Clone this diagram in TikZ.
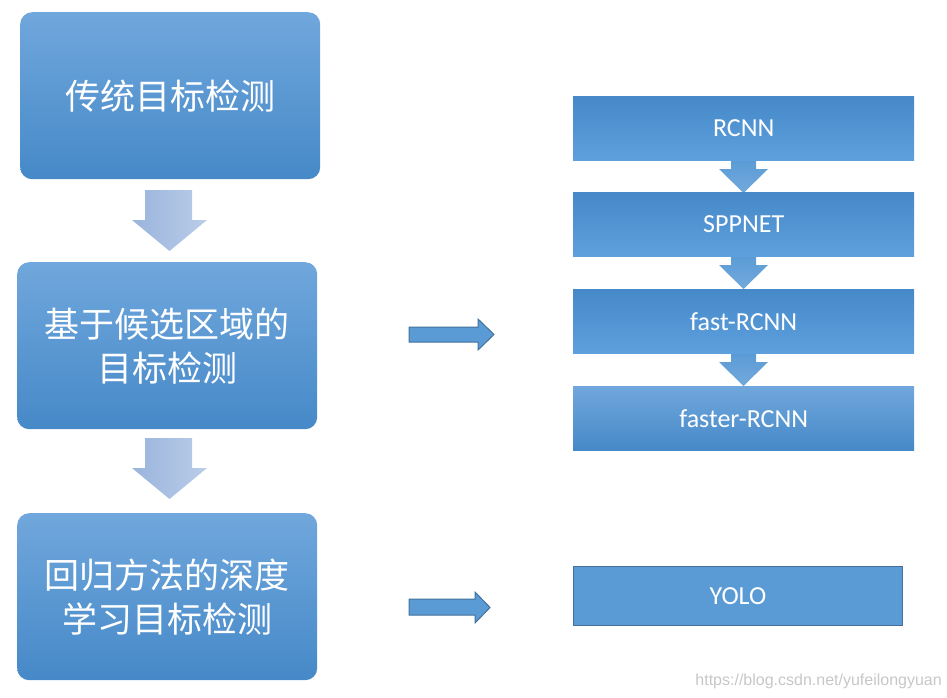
\documentclass[tikz,border=0pt]{standalone}
\usepackage{fontspec}
\setmainfont{Carlito}
\newfontfamily\cjk{Noto Sans CJK SC}
\newfontfamily\wmfont{Liberation Sans}
\definecolor{lbTop}{HTML}{70A7DC}
\definecolor{lbBot}{HTML}{4689C8}
\definecolor{rbTop}{HTML}{4689C8}
\definecolor{rbBot}{HTML}{5EA0DE}
\definecolor{daL}{HTML}{9AB4DC}
\definecolor{daR}{HTML}{BACDE9}
\definecolor{saTop}{HTML}{5B9BD5}
\definecolor{saBot}{HTML}{72A9DC}
\definecolor{bfill}{HTML}{5B9BD5}
\definecolor{bdraw}{HTML}{41719C}
\begin{document}
\begin{tikzpicture}[x=1pt,y=-1pt,
  leftbox/.style={anchor=north west, minimum width=300pt, minimum height=167pt,
    rounded corners=12pt, top color=lbTop, bottom color=lbBot, draw=none,
    text=white, font=\cjk\fontsize{35}{44}\selectfont, align=center, inner sep=0pt},
  rightbox/.style={anchor=north west, minimum width=341pt, minimum height=64pt,
    top color=rbTop, bottom color=rbBot, draw=none, text=white,
    font=\fontsize{26}{30}\selectfont, inner sep=0pt},
  downarrow/.style={left color=daL, right color=daR, draw=none},
  smallarrow/.style={top color=saTop, bottom color=saBot, draw=none},
  rightarrow/.style={fill=bfill, draw=bdraw, line width=1pt, line join=miter}]
\useasboundingbox (0,0) rectangle (947,698);
% left boxes
\node[leftbox] (b1) at (20,12) {传统目标检测};
\node[leftbox] (b2) at (17,262) {基于候选区域的\\目标检测};
\node[leftbox] (b3) at (17,513) {回归方法的深度\\学习目标检测};
% down block arrows
\shade[downarrow] (145,190) -- (192,190) -- (192,220) -- (207,220) -- (169.5,251) -- (132,220) -- (145,220) -- cycle;
\shade[downarrow] (145,438) -- (192,438) -- (192,468) -- (207,468) -- (169.5,499) -- (132,468) -- (145,468) -- cycle;
% right block arrows
\draw[rightarrow] (409,327) -- (478,327) -- (478,319) -- (494,334.5) -- (478,350) -- (478,342) -- (409,342) -- cycle;
\draw[rightarrow] (409,599) -- (475,599) -- (475,592) -- (490,607.5) -- (475,623) -- (475,615) -- (409,615) -- cycle;
% small arrows between right boxes
\shade[smallarrow] (731,160) -- (756,160) -- (756,169) -- (768,169) -- (743.5,193) -- (719,169) -- (731,169) -- cycle;
\shade[smallarrow] (731,256) -- (756,256) -- (756,265) -- (768,265) -- (743.5,289) -- (719,265) -- (731,265) -- cycle;
\shade[smallarrow] (731,353) -- (756,353) -- (756,362) -- (768,362) -- (743.5,386) -- (719,362) -- (731,362) -- cycle;
% right boxes
\node[rightbox] (r1) at (573,96) {RCNN};
\node[rightbox] (r2) at (573,192) {SPPNET};
\node[rightbox] (r3) at (573,289) {fast-RCNN};
\node[rightbox, top color=lbTop, bottom color=lbBot] (r4) at (573,386) {faster-RCNN};
\node[anchor=north west, minimum width=329pt, minimum height=59pt, fill=bfill,
  draw=bdraw, line width=1pt, text=white, font=\fontsize{26}{30}\selectfont,
  inner sep=0pt] (yolo) at (573,566) {YOLO};
% watermark
\node[anchor=south east, inner sep=0pt, text=black!22, font=\wmfont\fontsize{16}{18}\selectfont] (wm) at (942,689) {https://blog.csdn.net/yufeilongyuan};
\end{tikzpicture}
\end{document}
